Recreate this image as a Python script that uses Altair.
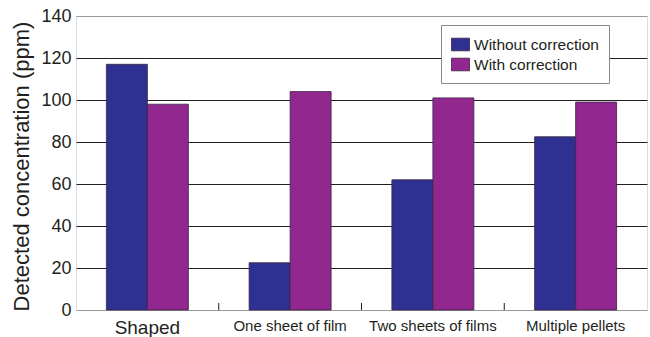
import altair as alt
import pandas as pd

# Detected concentration per sample form, before and after correction
categories = ["Shaped", "One sheet of film", "Two sheets of films", "Multiple pellets"]
without_correction = [117, 22.5, 62, 82.5]
with_correction = [98, 104, 101, 99]
series = ["Without correction", "With correction"]
series_colors = ["#2E3192", "#92278F"]
y_ticks = [0, 20, 40, 60, 80, 100, 120, 140]

rows = []
for cat, a, b in zip(categories, without_correction, with_correction):
    rows.append({"form": cat, "series": series[0], "ppm": a})
    rows.append({"form": cat, "series": series[1], "ppm": b})
df = pd.DataFrame(rows)

INK = "#231F20"
FRAME = "#9A9A9A"
FONT = "Liberation Sans"

W, H = 571, 294
PAD_INNER = 0.4256
PAD_OUTER = PAD_INNER / 2
x_scale = alt.Scale(paddingInner=PAD_INNER, paddingOuter=PAD_OUTER)
STEP = W / len(categories)
HALF_GAP = PAD_INNER * STEP / 2

bars = alt.Chart(df).mark_bar(stroke="#3A2340", strokeWidth=0.8).encode(
    x=alt.X("form:N", sort=categories, scale=x_scale, title=None,
            axis=alt.Axis(orient="bottom", labelAngle=0, ticks=False, domain=False,
                          labelPadding=8, labelFont=FONT, labelColor=INK,
                          labelFontSize={"condition": {"test": "datum.value === 'Shaped'", "value": 19},
                                         "value": 15})),
    xOffset=alt.XOffset("series:N", sort=series),
    y=alt.Y("ppm:Q", scale=alt.Scale(domain=[0, 140], nice=False),
            title="Detected concentration (ppm)",
            axis=alt.Axis(values=y_ticks, ticks=False, domain=False, labelPadding=5,
                          labelFont=FONT, labelFontSize=18, labelColor=INK,
                          titleFont=FONT, titleFontSize=22, titleFontWeight="normal",
                          titleColor=INK, titleX=-48, titleY=150,
                          titleBaseline="alphabetic",
                          grid=True, gridWidth=1,
                          gridColor={"condition": {"test": "datum.value === 0 || datum.value === 140",
                                                   "value": FRAME},
                                     "value": INK})),
    color=alt.Color("series:N", sort=series,
                    scale=alt.Scale(domain=series, range=series_colors),
                    legend=alt.Legend(title=None, orient="none", legendX=365, legendY=9,
                                      fillColor="white", strokeColor="#8A8A8A",
                                      padding=10, rowPadding=2,
                                      symbolType="M-1,-0.7H1V0.7H-1Z", symbolSize=324,
                                      symbolStrokeColor="#3A2340", symbolStrokeWidth=0.8,
                                      labelFont=FONT, labelFontSize=15.5, labelColor=INK,
                                      labelOffset=4)),
)

# Short separator ticks between neighbouring categories, rising from the base line
boundaries = pd.DataFrame({"form": categories[:-1]})
separators = alt.Chart(boundaries).mark_rule(
    color=INK, strokeWidth=1, xOffset=HALF_GAP
).encode(
    x=alt.X("form:N", sort=categories, bandPosition=1),
    y=alt.value(H - 7),
    y2=alt.value(H),
)

chart = alt.layer(bars, separators).properties(
    width=W, height=H,
    autosize=alt.AutoSizeParams(type="none"),
    padding={"left": 76, "top": 16, "right": 3, "bottom": 27},
).configure_view(stroke=FRAME, strokeWidth=1).configure(background="white")

chart.save("out.html", embed_options={"renderer": "svg", "actions": False})
